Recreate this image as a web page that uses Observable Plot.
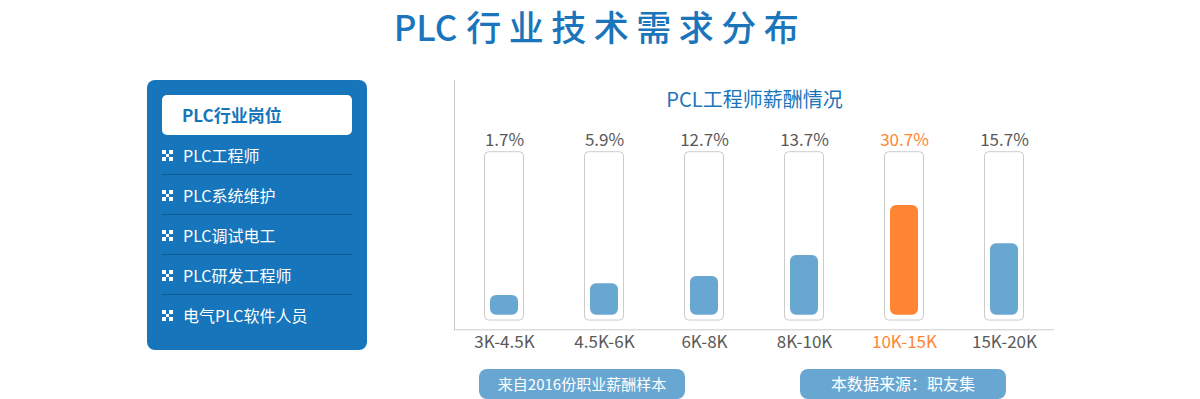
<!DOCTYPE html>
<html>
<head>
<meta charset="utf-8">
<script src="https://cdn.jsdelivr.net/npm/d3@7"></script>
<script src="https://cdn.jsdelivr.net/npm/@observablehq/plot@0.6"></script>
<style>
  html, body { margin: 0; padding: 0; background: #fff; }
  #page { position: relative; width: 1200px; height: 399px; overflow: hidden; font-family: "Noto Sans CJK SC", sans-serif; }
  #chart { position: absolute; left: 0; top: 0; }
  #title { position: absolute; left: 0; width: 1200px; top: 0px; text-align: center; color: #1a75bb;
           font-size: 35px; font-weight: 500; line-height: 51px; white-space: nowrap; }
  #title .lat { letter-spacing: 0px; margin-right: 9px; }
  #title .cjk { letter-spacing: 7.5px; }
  #panel { position: absolute; left: 147px; top: 80px; width: 220px; height: 270px; background: #1775bb; border-radius: 8px; }
  #panel .head { position: absolute; left: 15px; top: 15px; width: 170px; height: 40px; padding-left: 20px; background: #fff;
                 border-radius: 5px; color: #1775bb; font-weight: bold; font-size: 17px; line-height: 40px; }
  #panel .row { position: absolute; left: 15px; width: 190px; height: 40px; color: #fff; font-size: 16px; line-height: 40px; }
  #panel .row.sep { border-bottom: 1px solid #0e5a96; height: 39px; }
  #panel .row .txt { position: absolute; left: 21px; top: 0; }
  #panel .icon { position: absolute; left: 0; top: 15px; width: 11px; height: 11px; }
  #panel .icon i { position: absolute; width: 3.6px; height: 3.6px; background: #fff; }
  .btn { position: absolute; top: 369px; height: 30px; background: #69a7d3; border-radius: 8px; color: #fff;
         text-align: center; line-height: 29px; font-size: 16px; }
</style>
</head>
<body>
<div id="page">
  <div id="chart"></div>
  <div id="title"><span class="lat">PLC</span><span class="cjk">行业技术需求分布</span></div>
  <div id="panel"></div>
  <div class="btn" id="btn1" style="left:479px;width:206px;font-size:15px;"></div>
  <div class="btn" id="btn2" style="left:800px;width:206px;"></div>
</div>
<script>
// ---- data ----
const chartTitle = "PCL工程师薪酬情况";
const salaryRanges = ["3K-4.5K", "4.5K-6K", "6K-8K", "8K-10K", "10K-15K", "15K-20K"];
const shares = [1.7, 5.9, 12.7, 13.7, 30.7, 15.7];            // % labels
const fillLevels = [14.9, 21.8, 26.1, 38.6, 68.3, 45.6];      // drawn fill height, % of each tube
const highlightRange = "10K-15K";
const panelHeader = "PLC行业岗位";
const jobs = ["PLC工程师", "PLC系统维护", "PLC调试电工", "PLC研发工程师", "电气PLC软件人员"];
const sourceNotes = ["来自2016份职业薪酬样本", "本数据来源：职友集"];

const BLUE = "#69a7d3", ORANGE = "#ff8533", GREY = "#595959";

const rows = salaryRanges.map((r, i) => ({
  range: r, share: shares[i], level: fillLevels[i],
  color: r === highlightRange ? ORANGE : BLUE,
  textColor: r === highlightRange ? ORANGE : GREY
}));

const yDomain = [-5.5, 142.6];

const plot = Plot.plot({
  width: 1200,
  height: 399,
  marginLeft: 454,
  marginRight: 146,
  marginTop: 80,
  marginBottom: 69.7,
  style: { fontFamily: '"Noto Sans CJK SC", sans-serif', fontSize: "17px", color: "#cccccc", background: "transparent" },
  x: { domain: salaryRanges, padding: 0, axis: null },
  y: { domain: yDomain, axis: "left", line: true, ticks: [], tickSize: 0, label: null },
  color: { type: "identity" },
  marks: [
    Plot.ruleY([yDomain[0]], { stroke: "#cccccc" }),
    Plot.barY(rows, { x: "range", y1: 0, y2: 100, insetLeft: 30.5, insetRight: 30.5, fill: "white", stroke: "#cccccc", rx: 4 }),
    Plot.barY(rows, { x: "range", y1: 0, y2: "level", insetBottom: 5.3, insetLeft: 36, insetRight: 36, fill: "color", rx: 6 }),
    Plot.text(rows, { x: "range", y: 100, dy: -12, text: d => d.share + "%", fill: "textColor", fontSize: 17 }),
    Plot.text(rows, { x: "range", frameAnchor: "bottom", lineAnchor: "middle", dy: 12.7, text: "range", fill: "textColor", fontSize: 17 }),
    Plot.text([chartTitle], { frameAnchor: "top", lineAnchor: "middle", dy: 20.5, text: d => d, fill: "#1a75bb", fontSize: 20 })
  ]
});
document.getElementById("chart").appendChild(plot);

// ---- side panel ----
const panel = document.getElementById("panel");
const head = document.createElement("div");
head.className = "head";
head.textContent = panelHeader;
panel.appendChild(head);
jobs.forEach((j, i) => {
  const row = document.createElement("div");
  row.className = "row" + (i < jobs.length - 1 ? " sep" : "");
  row.style.top = (55 + i * 40) + "px";
  const icon = document.createElement("div");
  icon.className = "icon";
  [[0,0],[2,0],[1,1],[0,2],[2,2]].forEach(([cx, cy]) => {
    const sq = document.createElement("i");
    sq.style.left = (cx * 3.7) + "px";
    sq.style.top = (cy * 3.7) + "px";
    icon.appendChild(sq);
  });
  row.appendChild(icon);
  const t = document.createElement("span");
  t.className = "txt";
  t.textContent = j;
  row.appendChild(t);
  panel.appendChild(row);
});
document.getElementById("btn1").textContent = sourceNotes[0];
document.getElementById("btn2").textContent = sourceNotes[1];
</script>
</body>
</html>
